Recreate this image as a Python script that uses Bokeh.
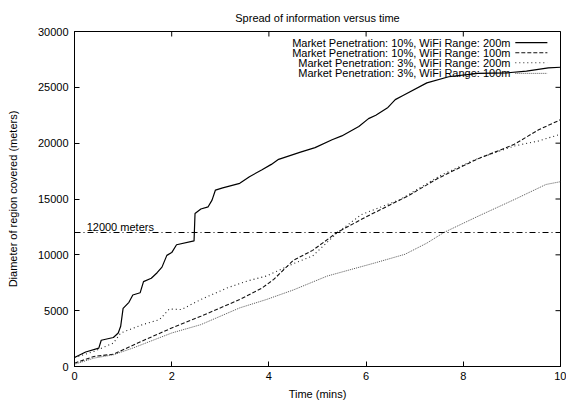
import math
from bokeh.plotting import figure
from bokeh.models import Range1d, FixedTicker, Span, ColumnDataSource
from bokeh.embed import file_html
from bokeh.resources import INLINE
from bokeh.core.properties import value

# ---- data ----
time_10_200 = [0, 0.23, 0.5, 0.55, 0.8, 0.9, 0.95, 1.0, 1.12, 1.2, 1.35, 1.42, 1.58, 1.7, 1.8,
               1.9, 2.0, 2.1, 2.46, 2.48, 2.6, 2.75, 2.83, 2.9, 3.05, 3.4, 3.6, 3.85, 4.05,
               4.2, 4.65, 4.95, 5.3, 5.5, 5.85, 6.05, 6.2, 6.45, 6.6, 6.75, 7.25, 7.7, 8.3,
               8.9, 9.3, 9.75, 10]
diam_10_200 = [800, 1300, 1650, 2350, 2600, 3000, 3600, 5200, 5750, 6400, 6600, 7600, 7900,
               8400, 8900, 9950, 10200, 10900, 11250, 13700, 14100, 14300, 14900, 15800,
               16000, 16400, 17000, 17600, 18100, 18550, 19200, 19600, 20300, 20650, 21500,
               22200, 22500, 23200, 23900, 24250, 25400, 25950, 26250, 26300, 26450, 26750,
               26800]

time_10_100 = [0, 0.4, 0.8, 1.3, 2.0, 2.6, 3.4, 3.85, 4.1, 4.5, 4.9, 5.4, 6.0, 6.85, 7.5,
               8.25, 9.05, 9.55, 10]
diam_10_100 = [300, 900, 1100, 2100, 3450, 4500, 6000, 7000, 7800, 9500, 10400, 12000, 13400,
               15250, 16900, 18500, 19900, 21200, 22100]

time_3_200 = [0, 0.4, 0.8, 0.95, 1.4, 1.75, 1.95, 2.2, 2.6, 3.15, 3.55, 3.95, 4.5, 4.9, 5.4,
              5.9, 6.7, 7.55, 8.25, 9.05, 9.55, 10]
diam_3_200 = [800, 1350, 2100, 3000, 3750, 4200, 5150, 5100, 6000, 7050, 7650, 8100, 9200,
              9900, 11950, 13600, 14950, 17150, 18550, 19750, 20200, 20800]

time_3_100 = [0, 0.4, 0.8, 1.2, 2.0, 2.6, 3.4, 3.95, 4.5, 5.2, 6.2, 6.8, 7.25, 7.6, 8.3,
              9.05, 9.7, 10]
diam_3_100 = [200, 750, 1050, 1650, 3000, 3750, 5250, 6000, 6850, 8100, 9300, 10050, 11050,
              12000, 13450, 14950, 16300, 16550]

series_labels = ["Market Penetration: 10%, WiFi Range: 200m",
                 "Market Penetration: 10%, WiFi Range: 100m",
                 "Market Penetration: 3%, WiFi Range: 200m",
                 "Market Penetration: 3%, WiFi Range: 100m"]
threshold = 12000
threshold_label = "12000 meters"
x_ticks = [0, 2, 4, 6, 8, 10]
y_ticks = [0, 5000, 10000, 15000, 20000, 25000, 30000]
x_min, x_max = 0, 10
y_min, y_max = 0, 30000

# ---- styles ----
FONT = "Liberation Sans"
FS = "11px"
styles = [
    dict(color="#000000", width=1.2, dash="solid"),
    dict(color="#111111", width=1.1, dash="4 2"),
    dict(color="#222222", width=1.1, dash="1 3"),
    dict(color="#555555", width=1.0, dash="1 1"),
]

p = figure(width=566, height=403, output_backend="svg", toolbar_location=None,
           x_range=Range1d(x_min, x_max), y_range=Range1d(y_min, y_max),
           min_border_left=74, min_border_right=6, min_border_top=31, min_border_bottom=37)

p.title.text = "Spread of information versus time"
p.title.align = "center"
p.title.text_font = FONT
p.title.text_font_size = FS
p.title.text_font_style = "normal"
p.title.text_color = "#000000"
p.title.standoff = 16

p.grid.visible = False
p.outline_line_color = "#000000"
p.outline_line_width = 1
p.outline_line_alpha = 1
p.background_fill_color = "white"
p.border_fill_color = "white"

for ax in (p.xaxis[0], p.yaxis[0]):
    ax.major_tick_in = 5
    ax.major_tick_out = 0
    ax.minor_tick_in = 0
    ax.minor_tick_out = 0
    ax.axis_line_color = "#000000"
    ax.major_tick_line_color = "#000000"
    ax.major_label_text_font = FONT
    ax.major_label_text_font_size = FS
    ax.major_label_text_color = "#000000"
    ax.axis_label_text_font = FONT
    ax.axis_label_text_font_size = FS
    ax.axis_label_text_font_style = "normal"
    ax.axis_label_text_color = "#000000"

p.xaxis[0].ticker = FixedTicker(ticks=x_ticks)
p.yaxis[0].ticker = FixedTicker(ticks=y_ticks)
p.xaxis[0].axis_label = "Time (mins)"
p.yaxis[0].axis_label = "Diameter of region covered (meters)"
p.xaxis[0].major_label_standoff = 5
p.xaxis[0].axis_label_standoff = 5
p.yaxis[0].major_label_standoff = 6
p.yaxis[0].axis_label_standoff = 16

# mirror ticks on top and right edges (dash markers, half clipped by the frame)
p.scatter(x=x_ticks, y=[y_max] * len(x_ticks), marker="dash", size=10,
          angle=math.pi / 2, line_color="#000000", line_width=1)
p.scatter(x=[x_max] * len(y_ticks), y=y_ticks, marker="dash", size=10,
          angle=0, line_color="#000000", line_width=1)

# threshold line
p.add_layout(Span(location=threshold, dimension="width", line_color="#000000",
                  line_width=1, line_dash="6 3 1 3"))
p.text(x=[0.25], y=[threshold], text=[threshold_label], text_font=value(FONT),
       text_font_size=FS, text_color="#000000", text_baseline="bottom", text_align="left")

# curves
series = [(time_10_200, diam_10_200), (time_10_100, diam_10_100),
          (time_3_200, diam_3_200), (time_3_100, diam_3_100)]

# custom legend (text right-aligned, sample to the right), gnuplot style
leg_text_x = 8.97
leg_x0, leg_x1 = 9.07, 9.73
leg_rows = [29000, 28100, 27200, 26250]
for (lab, st, ly) in zip(series_labels, styles, leg_rows):
    p.text(x=[leg_text_x], y=[ly], text=[lab], text_font=value(FONT), text_font_size=FS,
           text_color="#000000", text_align="right", text_baseline="middle")
    p.segment(x0=[leg_x0], y0=[ly], x1=[leg_x1], y1=[ly], line_color=st["color"],
              line_width=st["width"], line_dash=st["dash"])

for (xs, ys), st in zip(series, styles):
    src = ColumnDataSource(dict(x=xs, y=ys))
    p.line("x", "y", source=src, line_color=st["color"], line_width=st["width"],
           line_dash=st["dash"])

open("out.html", "w").write(file_html(p, INLINE))
